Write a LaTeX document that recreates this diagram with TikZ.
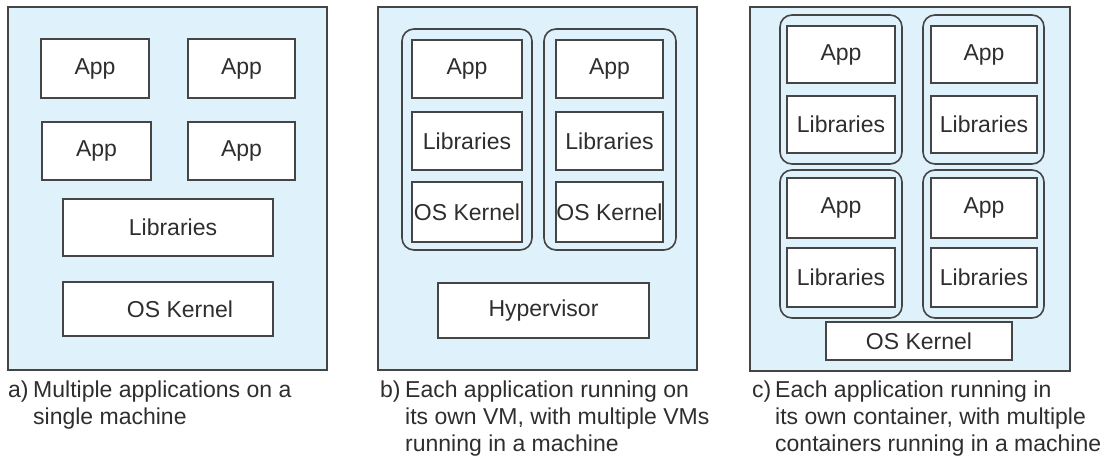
\documentclass[tikz,border=0pt]{standalone}
\usepackage{fontspec}
\setmainfont{Liberation Sans}
\definecolor{panelbg}{HTML}{DFF1FB}
\definecolor{linec}{HTML}{454545}
\definecolor{textc}{HTML}{2E2E2E}
\begin{document}
\begin{tikzpicture}[x=1pt,y=-1pt,
  panel/.style={draw=linec, line width=1.8pt, fill=panelbg},
  cont/.style={draw=linec, line width=1.6pt, fill=panelbg, rounded corners=12pt},
  box/.style={draw=linec, line width=1.8pt, fill=white, rectangle, inner sep=0pt,
    text=textc, font=\fontsize{23}{26}\selectfont},
  capt/.style={anchor=base west, inner sep=0pt, text=textc, font=\fontsize{23}{27}\selectfont}]
\useasboundingbox (0,0) rectangle (1112,459);

% ---------- panel a ----------
\draw[panel] (8,7) rectangle (327,370);
\node[box, minimum width=108pt, minimum height=59pt] (a1) at (95,68.5) {App};
\node[box, minimum width=107pt, minimum height=59pt] (a2) at (241.5,68.5) {App};
\node[box, minimum width=109pt, minimum height=58pt] (a3) at (96.5,151) {App};
\node[box, minimum width=107pt, minimum height=58pt] (a4) at (241.5,151) {App};
\node[box, minimum width=210pt, minimum height=57pt] (alib) at (168,227.5) {\hspace*{10pt}Libraries};
\node[box, minimum width=210pt, minimum height=54pt] (aos) at (168,309) {\hspace*{24pt}OS Kernel};

% ---------- panel b ----------
\draw[panel] (378,7) rectangle (697,370);
\draw[cont] (402,29) rectangle (532,250);
\draw[cont] (544,29) rectangle (676,250);
\node[box, minimum width=110pt, minimum height=58pt] (b1app) at (467,69) {App};
\node[box, minimum width=110pt, minimum height=58pt] (b1lib) at (467,141) {Libraries};
\node[box, minimum width=110pt, minimum height=60pt] (b1os) at (467,212) {OS Kernel};
\node[box, minimum width=107pt, minimum height=58pt] (b2app) at (609.5,69) {App};
\node[box, minimum width=107pt, minimum height=58pt] (b2lib) at (609.5,141) {Libraries};
\node[box, minimum width=107pt, minimum height=60pt] (b2os) at (609.5,212) {OS Kernel};
\node[box, minimum width=211pt, minimum height=55pt] (bhyp) at (543.5,310.5) {Hypervisor};

% ---------- panel c ----------
\draw[panel] (750,7) rectangle (1070,371);
\draw[cont] (780,15) rectangle (902,164);
\draw[cont] (923,15) rectangle (1044,164);
\draw[cont] (780,170) rectangle (902,318);
\draw[cont] (923,170) rectangle (1044,318);
\node[box, minimum width=108pt, minimum height=57pt] (c1app) at (841,54.5) {App};
\node[box, minimum width=108pt, minimum height=57pt] (c1lib) at (841,124.5) {Libraries};
\node[box, minimum width=106pt, minimum height=57pt] (c2app) at (984,54.5) {App};
\node[box, minimum width=106pt, minimum height=57pt] (c2lib) at (984,124.5) {Libraries};
\node[box, minimum width=108pt, minimum height=60pt] (c3app) at (841,208) {App};
\node[box, minimum width=108pt, minimum height=59pt] (c3lib) at (841,277.5) {Libraries};
\node[box, minimum width=106pt, minimum height=60pt] (c4app) at (984,208) {App};
\node[box, minimum width=106pt, minimum height=59pt] (c4lib) at (984,277.5) {Libraries};
\node[box, minimum width=186pt, minimum height=38pt] (cos) at (919,341) {OS Kernel};

% ---------- captions ----------
\node[capt] (capa0) at (8,397) {a)};
\node[capt] (capa1) at (33,397) {Multiple applications on a};
\node[capt] (capa2) at (33,424) {single machine};

\node[capt] (capb0) at (380,397) {b)};
\node[capt] (capb1) at (405,397) {Each application running on};
\node[capt] (capb2) at (405,424) {its own VM, with multiple VMs};
\node[capt] (capb3) at (405,451) {running in a machine};

\node[capt] (capc0) at (752,397) {c)};
\node[capt] (capc1) at (775,397) {Each application running in};
\node[capt] (capc2) at (775,424) {its own container, with multiple};
\node[capt] (capc3) at (775,451) {containers running in a machine};
\end{tikzpicture}
\end{document}
